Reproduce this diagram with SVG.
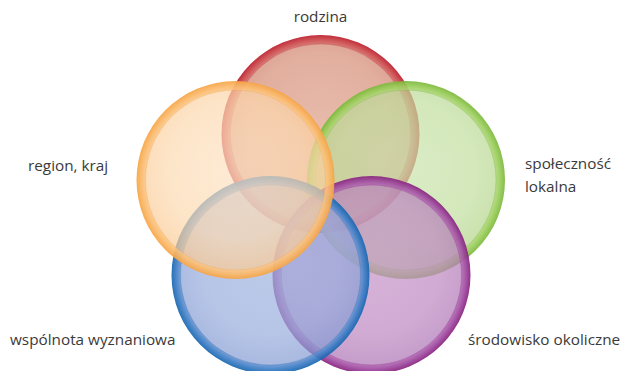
<svg xmlns="http://www.w3.org/2000/svg" xmlns:xlink="http://www.w3.org/1999/xlink" width="621" height="371" viewBox="0 0 621 371">
<style>
text{font-family:"Open Sans","DejaVu Sans",sans-serif;font-size:15.3px;fill:#3a3a3a}
.ring{fill-rule:evenodd;opacity:.92}
.disc{opacity:.7}
.edge{fill:none;stroke-width:.6;opacity:.35}
</style>
<defs>
<path id="annulus" d="M-99,0a99,99 0 1,0 198,0a99,99 0 1,0 -198,0ZM-90,0a90,90 0 1,1 180,0a90,90 0 1,1 -180,0Z"/>
<radialGradient id="rr"><stop offset=".905" stop-color="#d4716c"/><stop offset=".95" stop-color="#cc4a4c"/><stop offset="1" stop-color="#bb1c2a"/></radialGradient>
<radialGradient id="rg"><stop offset=".905" stop-color="#b1d97e"/><stop offset=".95" stop-color="#9acd5a"/><stop offset="1" stop-color="#7ab83a"/></radialGradient>
<radialGradient id="rp"><stop offset=".905" stop-color="#b56db6"/><stop offset=".95" stop-color="#a04ba0"/><stop offset="1" stop-color="#86207f"/></radialGradient>
<radialGradient id="rb"><stop offset=".905" stop-color="#6f97d3"/><stop offset=".95" stop-color="#3f7fc6"/><stop offset="1" stop-color="#1565b0"/></radialGradient>
<radialGradient id="ro"><stop offset=".905" stop-color="#fcc98c"/><stop offset=".95" stop-color="#fbb96a"/><stop offset="1" stop-color="#f6a444"/></radialGradient>
<radialGradient id="fr" cx=".5" cy=".45" r=".55"><stop offset="0" stop-color="#dc9c85"/><stop offset=".7" stop-color="#d68d76"/><stop offset="1" stop-color="#c9725f"/></radialGradient>
<radialGradient id="fg" cx=".5" cy=".45" r=".55"><stop offset="0" stop-color="#c9e3ac"/><stop offset=".7" stop-color="#c1de9e"/><stop offset="1" stop-color="#b2d488"/></radialGradient>
<radialGradient id="fp" cx=".5" cy=".45" r=".55"><stop offset="0" stop-color="#c491c7"/><stop offset=".7" stop-color="#bd86c0"/><stop offset="1" stop-color="#ad73b4"/></radialGradient>
<radialGradient id="fb" cx=".5" cy=".45" r=".55"><stop offset="0" stop-color="#a0b4e0"/><stop offset=".7" stop-color="#97abdc"/><stop offset="1" stop-color="#849bd2"/></radialGradient>
<radialGradient id="fo" cx=".5" cy=".45" r=".55"><stop offset="0" stop-color="#fde2c3"/><stop offset=".7" stop-color="#fcd9b0"/><stop offset="1" stop-color="#fbcb94"/></radialGradient>
</defs>
<g id="rodzina" transform="translate(320.5,134)">
<circle class="disc" r="90.5" fill="url(#fr)"/>
<use class="ring" xlink:href="#annulus" fill="url(#rr)"/>
<circle class="edge" r="90" stroke="#b0303a"/>
</g>
<g id="spolecznosc" transform="translate(406,180)">
<circle class="disc" r="90.5" fill="url(#fg)"/>
<use class="ring" xlink:href="#annulus" fill="url(#rg)"/>
<circle class="edge" r="90" stroke="#5a9a2a"/>
</g>
<g id="srodowisko" transform="translate(371.5,275)">
<circle class="disc" r="90.5" fill="url(#fp)"/>
<use class="ring" xlink:href="#annulus" fill="url(#rp)"/>
<circle class="edge" r="90" stroke="#7a1a74"/>
</g>
<g id="wspolnota" transform="translate(270.5,275)">
<circle class="disc" r="90.5" fill="url(#fb)"/>
<use class="ring" xlink:href="#annulus" fill="url(#rb)"/>
<circle class="edge" r="90" stroke="#1a5aa0"/>
</g>
<g id="region" transform="translate(235.5,180)">
<circle class="disc" r="90.5" fill="url(#fo)"/>
<use class="ring" xlink:href="#annulus" fill="url(#ro)"/>
<circle class="edge" r="90" stroke="#e0903a"/>
</g>
<g id="connectors"/>
<g id="labels">
<text x="320.5" y="22" text-anchor="middle">rodzina</text>
<text x="28" y="171">region, kraj</text>
<text x="525" y="169">społeczność</text>
<text x="525" y="192">lokalna</text>
<text x="10" y="345">wspólnota wyznaniowa</text>
<text x="468" y="345">środowisko okoliczne</text>
</g>
</svg>
